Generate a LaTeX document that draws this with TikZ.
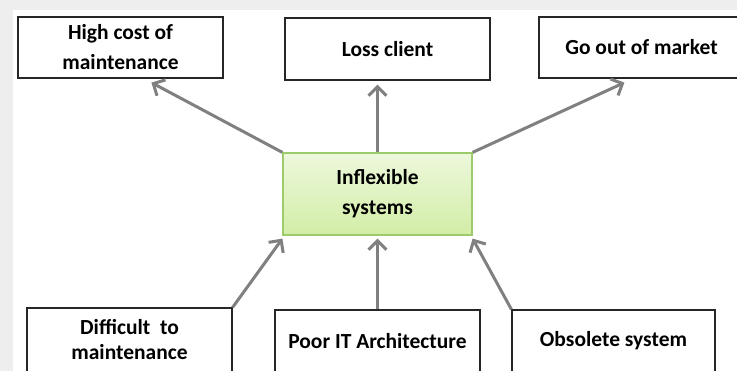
\documentclass[tikz,border=0pt]{standalone}
\usepackage{fontspec}
\setmainfont{Carlito}
\usetikzlibrary{arrows.meta,calc}
\definecolor{arr}{HTML}{808080}
\definecolor{infTop}{HTML}{EDF8DC}
\definecolor{infBot}{HTML}{D2EDA6}
\definecolor{infLine}{HTML}{9CCB6C}
\definecolor{frameGrey}{HTML}{EEEEEE}
\begin{document}
\begin{tikzpicture}[x=1pt,y=-1pt,
  box/.style={draw=black!85,line width=1.2pt,fill=white,align=center,
    font=\bfseries\fontsize{21.5}{30}\selectfont,inner sep=0pt},
  conn/.style={draw=arr,line width=3pt,-{Straight Barb[length=9pt,width=18pt]}},
]
\useasboundingbox (0,0) rectangle (737,371);
\clip (0,0) rectangle (737,371);
\fill[frameGrey] (0,0) rectangle (737,371);
\fill[white] (13,10) rectangle (737,371);

\node[box,minimum width=205,minimum height=61] (hc) at (120.5,47.5) {High cost of\\maintenance};
\node[box,minimum width=205,minimum height=62] (lc) at (387.5,49) {Loss client};
\node[box,minimum width=205,minimum height=61] (gm) at (641.5,47.5) {Go out of market};
\node[box,draw=infLine,top color=infTop,bottom color=infBot,minimum width=189,minimum height=82] (inf) at (377.5,194) {Inflexible\\systems};
\node[box,minimum width=205,minimum height=64,font=\bfseries\fontsize{21.5}{25}\selectfont] (dm) at (129.5,340) {Difficult~ to\\maintenance};
\node[box,minimum width=205,minimum height=62] (pit) at (377.5,341) {Poor IT Architecture};
\node[box,minimum width=203,minimum height=62] (os) at (613.5,341) {Obsolete system};

\draw[conn] (inf.north west) -- ($(hc.south west)!0.65!(hc.south east)+(0,4)$);
\draw[conn] (inf.north) -- ($(inf.north |- lc.south)+(0,4)$);
\draw[conn] (inf.north east) -- ($(gm.south west)+(86,4)$);
\draw[conn] (dm.north east) -- ($(inf.south west)+(0,3)$);
\draw[conn] (pit.north) -- ($(inf.south)+(0,3)$);
\draw[conn] (os.north west) -- ($(inf.south east)+(0,3)$);
\end{tikzpicture}
\end{document}
